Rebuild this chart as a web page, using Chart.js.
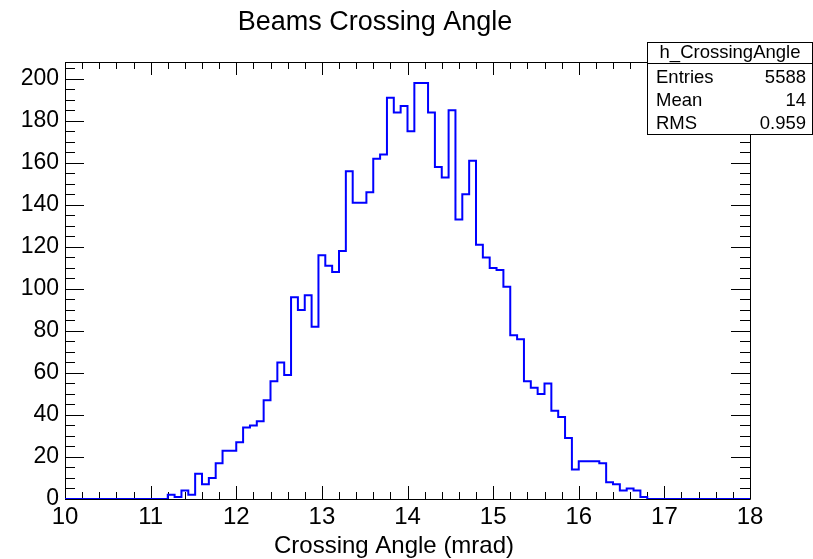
<!DOCTYPE html>
<html>
<head>
<meta charset="utf-8">
<script src="https://cdn.jsdelivr.net/npm/chart.js@4.4.1/dist/chart.umd.min.js"></script>
<style>
  html, body { margin: 0; padding: 0; background: #fff; }
  #wrap { width: 813px; height: 559px; }
</style>
</head>
<body>
<div id="wrap"><canvas id="chart"></canvas></div>
<script>
// histogram binning
const xMin = 10;
const xMax = 18;
const nBins = 100;

// bin contents (100 bins of 0.08 mrad)
const counts = [
  0, 0, 0, 0, 0, 0, 0, 0, 0, 0,
  0, 0, 0, 0, 0, 2, 1, 4, 2, 12,
  7, 10, 17, 23, 23, 27, 34, 35, 37, 47,
  56, 65, 59, 96, 90, 97, 82, 116, 111, 108,
  118, 156, 141, 141, 146, 162, 164, 191, 184, 187,
  175, 198, 198, 184, 158, 153, 185, 133, 145, 161,
  121, 115, 110, 109, 101, 78, 76, 56, 53, 50,
  55, 42, 39, 29, 14, 18, 18, 18, 17, 8,
  7, 4, 5, 4, 1, 0, 0, 0, 0, 0,
  0, 0, 0, 0, 0, 0, 0, 0, 0, 0,
];

// tick labels
const xTicks = [10, 11, 12, 13, 14, 15, 16, 17, 18];
const yTicks = [0, 20, 40, 60, 80, 100, 120, 140, 160, 180, 200];

const statsTitle = "h_CrossingAngle";
const statsNames = ["Entries", "Mean", "RMS"];
const statsValues = ["5588", "14", "0.959"];

const FONT = "'Liberation Sans', Arial, Helvetica, sans-serif";

// step points at the left edge of each bin, plus closing point at xMax
const binWidth = (xMax - xMin) / nBins;
const points = counts.map((c, i) => ({ x: xMin + i * binWidth, y: c }));
points.push({ x: xMax, y: counts[counts.length - 1] });

// ROOT-like frame with ticks drawn inward on all four sides
const frameTicks = {
  id: "frameTicks",
  beforeDatasetsDraw(chart) {
    const { ctx, chartArea: a, scales: { x, y } } = chart;
    ctx.save();
    ctx.strokeStyle = "#000";
    ctx.lineWidth = 1;
    ctx.beginPath();
    ctx.rect(Math.round(a.left) + 0.5, Math.round(a.top) + 0.5,
      Math.round(a.right - a.left), Math.round(a.bottom - a.top));
    // x ticks every 0.2, major every 1
    for (let i = 0; i <= 40; i++) {
      const px = Math.round(x.getPixelForValue(xMin + i * 0.2)) + 0.5;
      const len = i % 5 === 0 ? 13 : 7;
      ctx.moveTo(px, a.bottom);
      ctx.lineTo(px, a.bottom - len);
      ctx.moveTo(px, a.top);
      ctx.lineTo(px, a.top + len);
    }
    // y ticks every 5, major every 20
    for (let v = 0; v <= 205; v += 5) {
      const py = Math.round(y.getPixelForValue(v)) + 0.5;
      const len = v % 20 === 0 ? 19 : 10;
      ctx.moveTo(a.left, py);
      ctx.lineTo(a.left + len, py);
      ctx.moveTo(a.right, py);
      ctx.lineTo(a.right - len, py);
    }
    ctx.stroke();
    ctx.restore();
  },
  afterDraw(chart) {
    const { ctx } = chart;
    ctx.save();
    // x axis title
    ctx.fillStyle = "#000";
    ctx.font = "24px " + FONT;
    ctx.textAlign = "center";
    ctx.textBaseline = "middle";
    ctx.fillText("Crossing Angle (mrad)", 394, 546);

    // stats box
    const bx = 647.5, by = 42.5, bw = 165, bh = 92;
    ctx.fillStyle = "#fff";
    ctx.fillRect(bx, by, bw, bh);
    ctx.strokeStyle = "#000";
    ctx.lineWidth = 1;
    ctx.strokeRect(bx, by, bw, bh);
    ctx.beginPath();
    ctx.moveTo(bx, 63.5);
    ctx.lineTo(bx + bw, 63.5);
    ctx.stroke();

    ctx.fillStyle = "#000";
    ctx.font = "18.5px " + FONT;
    ctx.textAlign = "center";
    ctx.fillText(statsTitle, bx + bw / 2, 53);
    const rowsY = [78, 101, 124];
    statsNames.forEach((name, i) => {
      ctx.textAlign = "left";
      ctx.fillText(name, 656, rowsY[i]);
      ctx.textAlign = "right";
      ctx.fillText(statsValues[i], 806, rowsY[i]);
    });
    ctx.restore();
  },
};

const ctx = document.getElementById("chart");

const chart = new Chart(ctx, {
  type: "line",
  data: {
    datasets: [
      {
        label: statsTitle,
        data: points,
        stepped: "before",
        borderColor: "#0000ff",
        borderWidth: 2,
        pointRadius: 0,
        fill: false,
      },
    ],
  },
  options: {
    responsive: true,
    maintainAspectRatio: false,
    devicePixelRatio: 1,
    animation: false,
    layout: {
      padding: { left: 0, right: 63, top: 0, bottom: 0 },
    },
    scales: {
      x: {
        type: "linear",
        min: xMin,
        max: xMax,
        grid: { display: false, drawTicks: false },
        border: { display: false },
        ticks: {
          padding: 4,
          color: "#000",
          font: { size: 24, family: FONT },
          maxRotation: 0,
          autoSkip: false,
        },
        afterBuildTicks: (scale) => {
          scale.ticks = xTicks.map((v) => ({ value: v }));
        },
        afterFit: (scale) => {
          scale.height = 60;
        },
      },
      y: {
        min: 0,
        max: 208,
        grid: { display: false, drawTicks: false },
        border: { display: false },
        ticks: {
          padding: 6,
          color: "#000",
          font: { size: 23, family: FONT },
          autoSkip: false,
        },
        afterBuildTicks: (scale) => {
          scale.ticks = yTicks.map((v) => ({ value: v }));
        },
        afterFit: (scale) => {
          scale.width = 65;
        },
      },
    },
    plugins: {
      legend: { display: false },
      tooltip: { enabled: false },
      title: {
        display: true,
        text: "Beams Crossing Angle",
        color: "#000",
        font: { size: 27, family: FONT, weight: "normal" },
        padding: { top: 6, bottom: 23.6 },
      },
    },
  },
  plugins: [frameTicks],
});
</script>
</body>
</html>
